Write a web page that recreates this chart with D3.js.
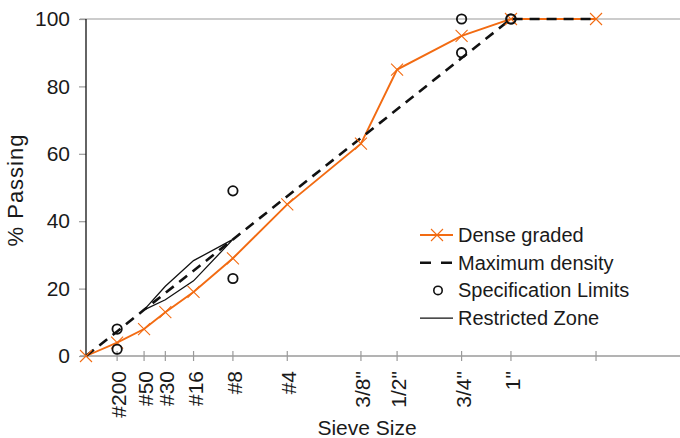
<!DOCTYPE html>
<html>
<head>
<meta charset="utf-8">
<script src="https://cdn.jsdelivr.net/npm/d3@7"></script>
<style>
  body { margin: 0; background: #fff; }
  text { font-family: "Liberation Sans", Arial, Helvetica, sans-serif; fill: #1a1a1a; }
</style>
</head>
<body>
<svg id="chart" width="680" height="438"></svg>
<script>
// sieve sizes in mm, x axis uses size^0.45
var sieveSizes = [0, 0.075, 0.3, 0.6, 1.18, 2.36, 4.75, 9.5, 12.5, 19, 25, 37.5];
var sieveLabels = ["", "#200", "#50", "#30", "#16", "#8", "#4", "3/8\"", "1/2\"", "3/4\"", "1\"", ""];

var denseGraded = [0, 4, 8, 13, 19, 29, 45, 63, 85, 95, 100, 100];
var maxDensity = [0, 7.3, 13.7, 18.7, 25.3, 34.6, 47.4, 64.7, 73.2, 88.4, 100, 100];

var specSizes = [0.075, 0.075, 2.36, 2.36, 19, 19, 25, 25];
var specValues = [2, 8, 23, 49, 90, 100, 100, 100];

var zoneSizes = [0.3, 0.6, 1.18, 2.36, 1.18, 0.6, 0.3];
var zoneValues = [13.7, 20.7, 28.3, 34.6, 22.3, 16.7, 13.7];

var yTicks = [0, 20, 40, 60, 80, 100];

var orange = "#f26b12";
var pw = function (d) { return Math.pow(d, 0.45); };

var svg = d3.select("#chart");
var x = d3.scaleLinear().domain([0, 6]).range([86, 685]);
var y = d3.scaleLinear().domain([0, 100]).range([356, 19]);

// gridline at 100
svg.append("line")
    .attr("x1", 80).attr("x2", 680)
    .attr("y1", y(100)).attr("y2", y(100))
    .attr("stroke", "#9a9a9a").attr("stroke-width", 1.2);

// y axis
var yAxis = svg.append("g")
    .attr("transform", "translate(" + x(0) + ",0)")
    .call(d3.axisLeft(y).tickValues(yTicks).tickSize(7).tickPadding(9));
yAxis.select(".domain").remove();
yAxis.selectAll(".tick line").attr("stroke", "#9a9a9a").attr("stroke-width", 1.2);
yAxis.selectAll(".tick text").attr("font-size", 21).style("font-family", "Liberation Sans, Arial, sans-serif").attr("fill", "#1a1a1a");

// x axis
svg.append("line")
    .attr("x1", 80).attr("x2", 680)
    .attr("y1", y(0)).attr("y2", y(0))
    .attr("stroke", "#9a9a9a").attr("stroke-width", 1.5);

var xt = svg.append("g");
xt.selectAll("line")
    .data(sieveSizes.slice(1))
    .enter().append("line")
    .attr("x1", function (d) { return x(pw(d)); })
    .attr("x2", function (d) { return x(pw(d)); })
    .attr("y1", y(0) - 5).attr("y2", y(0) + 5)
    .attr("stroke", "#9a9a9a").attr("stroke-width", 1.2);

xt.selectAll("text")
    .data(sieveSizes.slice(1))
    .enter().append("text")
    .attr("transform", function (d) {
        return "translate(" + (x(pw(d)) + 9) + "," + (y(0) + 15) + ") rotate(-90)";
    })
    .attr("text-anchor", "end")
    .attr("font-size", 21)
    .text(function (d, i) { return sieveLabels[i + 1]; });

// y axis line (black)
svg.append("line")
    .attr("x1", x(0)).attr("x2", x(0))
    .attr("y1", y(100)).attr("y2", y(0))
    .attr("stroke", "#111").attr("stroke-width", 1.3);

// axis titles
svg.append("text")
    .attr("x", 367).attr("y", 435)
    .attr("text-anchor", "middle")
    .attr("font-size", 21)
    .text("Sieve Size");

svg.append("text")
    .attr("transform", "translate(23,190) rotate(-90)")
    .attr("text-anchor", "middle")
    .attr("font-size", 22)
    .attr("letter-spacing", 1)
    .text("% Passing");

var line = d3.line()
    .x(function (d) { return x(pw(d[0])); })
    .y(function (d) { return y(d[1]); });

// restricted zone
svg.append("path")
    .attr("d", line(d3.zip(zoneSizes, zoneValues)))
    .attr("fill", "none")
    .attr("stroke", "#111")
    .attr("stroke-width", 1.3);

// dense graded
var denseData = d3.zip(sieveSizes, denseGraded);
svg.append("path")
    .attr("d", line(denseData))
    .attr("fill", "none")
    .attr("stroke", orange)
    .attr("stroke-width", 1.9);

// maximum density
svg.append("path")
    .attr("d", line(d3.zip(sieveSizes, maxDensity)))
    .attr("fill", "none")
    .attr("stroke", "#111")
    .attr("stroke-width", 2.6)
    .attr("stroke-dasharray", "10,7");

// crosses on dense graded
svg.append("g").selectAll("path")
    .data(denseData)
    .enter().append("path")
    .attr("d", "M-6,-6L6,6M-6,6L6,-6")
    .attr("transform", function (d) { return "translate(" + x(pw(d[0])) + "," + y(d[1]) + ")"; })
    .attr("stroke", orange)
    .attr("stroke-width", 1.1)
    .attr("fill", "none");

// spec limits
svg.append("g").selectAll("circle")
    .data(d3.zip(specSizes, specValues))
    .enter().append("circle")
    .attr("cx", function (d) { return x(pw(d[0])); })
    .attr("cy", function (d) { return y(d[1]); })
    .attr("r", 4.7)
    .attr("fill", "none")
    .attr("stroke", "#111")
    .attr("stroke-width", 1.8);

// legend
var legend = svg.append("g").attr("transform", "translate(420,235)");
var rowH = 27.7;
var items = ["Dense graded", "Maximum density", "Specification Limits", "Restricted Zone"];

legend.append("line").attr("x1", 0).attr("x2", 33).attr("y1", 0).attr("y2", 0)
    .attr("stroke", orange).attr("stroke-width", 1.9);
legend.append("path").attr("d", "M11,-6L23,6M11,6L23,-6")
    .attr("stroke", orange).attr("stroke-width", 1.1);

legend.append("line").attr("x1", 0).attr("x2", 33).attr("y1", rowH).attr("y2", rowH)
    .attr("stroke", "#111").attr("stroke-width", 2.6).attr("stroke-dasharray", "11,10");

legend.append("circle").attr("cx", 18).attr("cy", rowH * 2).attr("r", 4.2)
    .attr("fill", "none").attr("stroke", "#111").attr("stroke-width", 1.6);

legend.append("line").attr("x1", 0).attr("x2", 33).attr("y1", rowH * 3).attr("y2", rowH * 3)
    .attr("stroke", "#111").attr("stroke-width", 1.3);

legend.selectAll("text.lab")
    .data(items)
    .enter().append("text")
    .attr("class", "lab")
    .attr("x", 38)
    .attr("y", function (d, i) { return i * rowH + 7; })
    .attr("font-size", 20)
    .text(function (d) { return d; });
</script>
</body>
</html>
